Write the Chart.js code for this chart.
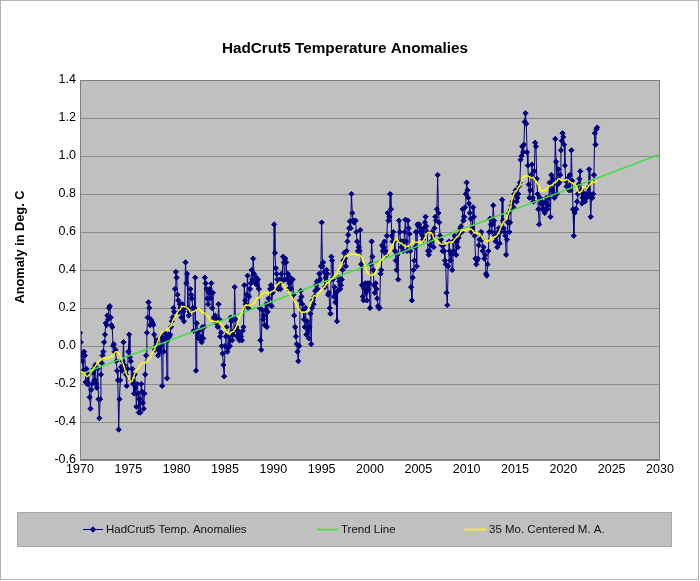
<!DOCTYPE html>
<html>
<head>
<meta charset="utf-8">
<script src="https://cdn.jsdelivr.net/npm/chart.js@4.4.1/dist/chart.umd.min.js"></script>
<style>
html,body{margin:0;padding:0;background:#fff;}
canvas{display:block;}
</style>
</head>
<body>
<canvas id="c" width="700" height="581"></canvas>
<script>
// ---------- data (monthly anomalies, Jan 1970 .. Jul 2023) ----------
const startYear = 1970;
const anom1970s = [
  0.07, 0.02, -0.05, -0.08, -0.13, -0.03, -0.05, -0.19, -0.12, -0.2, -0.15, -0.2,
  -0.27, -0.33, -0.23, -0.2, -0.14, -0.12, -0.18, -0.1, -0.2, -0.22, -0.12, -0.28,
  -0.38, -0.28, -0.15, -0.09, -0.05, -0.03, 0.02, 0.06, 0.12, 0.11, 0.16, 0.14,
  0.2, 0.21, 0.15, 0.11, 0.1, 0.0, 0.01, -0.03, -0.02, -0.08, -0.13, -0.18,
  -0.44, -0.28, -0.18, -0.11, -0.13, -0.08, 0.02, -0.1, -0.12, -0.15, -0.21, -0.12,
  -0.03, 0.06, -0.06, -0.08, -0.18, -0.12, -0.2, -0.25, -0.15, -0.22, -0.32, -0.2,
  -0.25, -0.35, -0.28, -0.35, -0.2, -0.24, -0.3, -0.33, -0.25, -0.15, -0.05, 0.07,
  0.15, 0.23, 0.2, 0.11, 0.14, 0.13, 0.12, 0.11, 0.06, -0.02, 0.0, 0.02,
  0.03, -0.05, -0.02, -0.03, 0.0, 0.05, -0.21, 0.03, -0.03, 0.07, 0.04, 0.06,
  -0.17, 0.03, 0.06, 0.05, 0.06, 0.1, 0.13, 0.15, 0.2, 0.18, 0.3, 0.39
];
const anom1980s = [
  0.36, 0.27, 0.24, 0.18, 0.22, 0.2, 0.15, 0.22, 0.18, 0.13, 0.2, 0.44,
  0.33, 0.38, 0.2, 0.16, 0.18, 0.3, 0.27, 0.25, 0.2, 0.08, 0.2, 0.36,
  -0.13, 0.12, 0.06, 0.04, 0.08, 0.04, 0.05, 0.02, 0.1, 0.04, 0.1, 0.36,
  0.33, 0.3, 0.25, 0.22, 0.28, 0.3, 0.25, 0.33, 0.2, 0.28, 0.15, 0.14,
  0.16, 0.12, 0.14, 0.1, 0.22, 0.14, 0.05, 0.07, 0.0, -0.04, -0.1, -0.16,
  0.0, 0.05, 0.1, -0.03, -0.01, 0.05, 0.0, 0.15, 0.13, 0.03, 0.06, 0.08,
  0.31, 0.14, 0.1, 0.05, 0.08, 0.04, 0.03, 0.06, 0.05, 0.03, 0.08, 0.1,
  0.32, 0.24, 0.22, 0.27, 0.37, 0.2, 0.26, 0.3, 0.33, 0.4, 0.35, 0.46,
  0.38, 0.34, 0.33, 0.36, 0.32, 0.35, 0.3, 0.2, 0.03, -0.02, 0.19, 0.14,
  0.16, 0.11, 0.19, 0.22, 0.1, 0.18, 0.25, 0.22, 0.3, 0.32, 0.21, 0.28
];
const anom1990s = [
  0.3, 0.64, 0.49, 0.41, 0.38, 0.35, 0.3, 0.33, 0.35, 0.3, 0.38, 0.34,
  0.47, 0.44, 0.35, 0.46, 0.44, 0.35, 0.38, 0.3, 0.33, 0.36, 0.3, 0.35,
  0.35, 0.27, 0.16, 0.1, 0.05, 0.01, -0.03, -0.08, 0.0, 0.24, 0.29, 0.26,
  0.22, 0.19, 0.14, 0.1, 0.2, 0.06, 0.13, 0.08, 0.04, 0.1, 0.17, 0.01,
  0.2, 0.24, 0.22, 0.26, 0.29, 0.32, 0.34, 0.3, 0.34, 0.38, 0.35, 0.42,
  0.65, 0.42, 0.44, 0.39, 0.31, 0.36, 0.4, 0.38, 0.27, 0.28, 0.2, 0.17,
  0.47, 0.45, 0.35, 0.26, 0.31, 0.23, 0.28, 0.13, 0.29, 0.36, 0.34, 0.3,
  0.32, 0.35, 0.4, 0.45, 0.49, 0.46, 0.42, 0.5, 0.55, 0.585, 0.62, 0.656,
  0.62, 0.8, 0.7, 0.66, 0.65, 0.66, 0.66, 0.6, 0.55, 0.5, 0.52, 0.5,
  0.61, 0.43, 0.32, 0.26, 0.24, 0.3, 0.33, 0.28, 0.24, 0.33, 0.3, 0.33
];
const anom2000s = [
  0.2, 0.43, 0.55, 0.47, 0.4, 0.32, 0.28, 0.33, 0.3, 0.25, 0.21, 0.2,
  0.2, 0.38, 0.4, 0.53, 0.5, 0.52, 0.55, 0.5, 0.48, 0.58, 0.7, 0.66,
  0.68, 0.8, 0.72, 0.58, 0.55, 0.6, 0.55, 0.5, 0.45, 0.4, 0.48, 0.35,
  0.66, 0.6, 0.55, 0.52, 0.55, 0.5, 0.55, 0.6, 0.665, 0.55, 0.5, 0.66,
  0.62, 0.59, 0.5, 0.31, 0.24, 0.36, 0.4, 0.45, 0.52, 0.6, 0.42, 0.64,
  0.63, 0.64, 0.6, 0.62, 0.6, 0.58, 0.56, 0.62, 0.65, 0.68, 0.63, 0.6,
  0.5, 0.48, 0.5, 0.53, 0.55, 0.6, 0.58, 0.52, 0.62, 0.68, 0.66, 0.72,
  0.9, 0.7, 0.65, 0.58, 0.56, 0.53, 0.5, 0.53, 0.5, 0.45, 0.43, 0.28,
  0.215, 0.42, 0.55, 0.5, 0.45, 0.48, 0.4, 0.55, 0.5, 0.58, 0.56, 0.48,
  0.55, 0.52, 0.57, 0.59, 0.62, 0.63, 0.6, 0.72, 0.66, 0.68, 0.73, 0.8
];
const anom2010s = [
  0.86, 0.82, 0.78, 0.75, 0.7, 0.67, 0.6, 0.62, 0.73, 0.68, 0.58, 0.46,
  0.43, 0.45, 0.46, 0.53, 0.56, 0.56, 0.6, 0.56, 0.5, 0.52, 0.46, 0.48,
  0.38, 0.37, 0.43, 0.5, 0.6, 0.67, 0.64, 0.6, 0.64, 0.74, 0.66, 0.58,
  0.55, 0.58, 0.52, 0.6, 0.62, 0.54, 0.6, 0.62, 0.77, 0.66, 0.62, 0.6,
  0.58, 0.48, 0.56, 0.65, 0.7, 0.6, 0.65, 0.72, 0.74, 0.76, 0.73, 0.8,
  0.8, 0.82, 0.76, 0.78, 0.8, 0.84, 0.86, 0.98, 1.0, 1.05, 1.02, 1.06,
  1.18, 1.225, 1.17, 1.02, 0.95, 0.85, 0.78, 0.82, 0.9, 0.955, 0.78, 0.76,
  0.92, 1.07, 1.05, 0.88, 0.8, 0.72, 0.64, 0.78, 0.75, 0.76, 0.72, 0.75,
  0.72, 0.7, 0.76, 0.78, 0.72, 0.74, 0.78, 0.86, 0.68, 0.9, 0.82, 0.88,
  0.8, 0.78, 1.09, 0.97, 0.8, 0.85, 0.93, 0.86, 0.9, 1.03, 1.08, 1.12
];
const anom2020s = [
  1.1, 1.06, 0.95, 0.87, 0.84, 0.88, 0.84, 0.82, 0.9, 0.82, 1.03, 0.87,
  0.72, 0.58, 0.7, 0.72, 0.72, 0.76, 0.8, 0.85, 0.88, 0.92, 0.82, 0.75,
  0.78, 0.8, 0.8, 0.76, 0.8, 0.78, 0.83, 0.8, 0.93, 0.8, 0.68, 0.78,
  0.78, 0.8, 0.9, 1.12, 1.06, 1.14, 1.15
];
const trendYears = [1970, 2030];
const trendValues = [-0.15, 1.01];
const maHalfWindow = 17; // 35-month centred moving average
const xTickYears = [1970, 1975, 1980, 1985, 1990, 1995, 2000, 2005, 2010, 2015, 2020, 2025, 2030];
const yTickValues = [-0.6, -0.4, -0.2, 0, 0.2, 0.4, 0.6, 0.8, 1.0, 1.2, 1.4];
const seriesNames = ['HadCrut5 Temp. Anomalies', 'Trend Line', '35 Mo. Centered M. A.'];
const chartTitle = 'HadCrut5 Temperature Anomalies';
const yAxisTitle = 'Anomaly in Deg. C';

// ---------- build datasets ----------
const monthly = [...anom1970s, ...anom1980s, ...anom1990s, ...anom2000s, ...anom2010s, ...anom2020s];
const monthlyPts = monthly.map((v, i) => ({x: startYear + i / 12, y: v}));
const maPts = monthly.map((v, i) => {
  let s = 0, n = 0;
  for (let j = Math.max(0, i - maHalfWindow); j <= Math.min(monthly.length - 1, i + maHalfWindow); j++) { s += monthly[j]; n++; }
  return {x: startYear + i / 12, y: s / n};
});
const trendPts = trendYears.map((x, i) => ({x, y: trendValues[i]}));

const FONT = '"Liberation Sans", Arial, Helvetica, sans-serif';
Chart.defaults.font.family = FONT;
Chart.defaults.color = '#000';

const NAVY = '#000080', GREEN = '#3ee03e', YELLOW = '#ffff00';

const decor = {
  id: 'decor',
  beforeDraw(chart) {
    const {ctx, chartArea: a, width, height} = chart;
    ctx.save();
    ctx.fillStyle = '#ffffff';
    ctx.fillRect(0, 0, width, height);
    ctx.strokeStyle = '#b4b4b4';
    ctx.lineWidth = 1;
    ctx.strokeRect(0.5, 0.5, width - 2, height - 2);
    ctx.fillStyle = '#c0c0c0';
    ctx.fillRect(a.left, a.top, a.right - a.left, a.bottom - a.top);
    ctx.restore();
  },
  afterDraw(chart) {
    const {ctx, chartArea: a} = chart;
    ctx.save();
    ctx.strokeStyle = '#808080';
    ctx.lineWidth = 1;
    ctx.strokeRect(a.left + 0.5, a.top + 0.5, a.right - a.left - 1, a.bottom - a.top - 1);
    // title
    ctx.fillStyle = '#000';
    ctx.textAlign = 'center';
    ctx.textBaseline = 'middle';
    ctx.font = 'bold 15.3px ' + FONT;
    ctx.fillText(chartTitle, 345, 49);
    // y axis title
    ctx.save();
    ctx.translate(20, 247);
    ctx.rotate(-Math.PI / 2);
    ctx.font = 'bold 12.8px ' + FONT;
    ctx.fillText(yAxisTitle, 0, 0);
    ctx.restore();
    // legend box
    ctx.fillStyle = '#c0c0c0';
    ctx.fillRect(17, 512, 655, 35);
    ctx.strokeStyle = '#a8a8a8';
    ctx.strokeRect(17.5, 512.5, 654, 34);
    const ly = 529.5;
    const itemX = [83, 317, 464];
    const itemLen = [20, 21, 22];
    chart.data.datasets.forEach((ds, i) => {
      const x0 = itemX[i], x1 = x0 + itemLen[i];
      ctx.strokeStyle = ds.borderColor;
      ctx.lineWidth = i === 0 ? 1 : 1.5;
      ctx.beginPath(); ctx.moveTo(x0, ly); ctx.lineTo(x1, ly); ctx.stroke();
      if (i === 0) {
        const cx = (x0 + x1) / 2, r = 3.2;
        ctx.fillStyle = NAVY;
        ctx.beginPath();
        ctx.moveTo(cx, ly - r); ctx.lineTo(cx + r, ly); ctx.lineTo(cx, ly + r); ctx.lineTo(cx - r, ly);
        ctx.closePath(); ctx.fill();
      }
      ctx.fillStyle = '#111';
      ctx.textAlign = 'left';
      ctx.textBaseline = 'middle';
      ctx.font = '11.5px ' + FONT;
      ctx.fillText(ds.label, x1 + 3, ly);
    });
    ctx.restore();
  }
};

new Chart(document.getElementById('c'), {
  type: 'scatter',
  data: {
    datasets: [
      {
        label: seriesNames[0], data: monthlyPts, showLine: true,
        borderColor: NAVY, borderWidth: 1, pointStyle: 'rectRot', pointRadius: 2.6,
        pointBackgroundColor: NAVY, pointBorderColor: NAVY, pointBorderWidth: 1, order: 3
      },
      {
        label: seriesNames[1], data: trendPts, showLine: true,
        borderColor: GREEN, borderWidth: 1.5, pointRadius: 0, order: 2
      },
      {
        label: seriesNames[2], data: maPts, showLine: true,
        borderColor: YELLOW, borderWidth: 1.4, pointRadius: 0, order: 1
      }
    ]
  },
  options: {
    responsive: false,
    animation: false,
    events: [],
    devicePixelRatio: 1,
    layout: { padding: { left: 0, right: 40, top: 80, bottom: 91 } },
    plugins: { legend: { display: false }, title: { display: false }, tooltip: { enabled: false } },
    scales: {
      x: {
        type: 'linear', min: 1970, max: 2030,
        afterBuildTicks: s => { s.ticks = xTickYears.map(v => ({value: v})); },
        afterFit: s => { s.height = 30; },
        ticks: { callback: v => String(v), color: '#000', font: { size: 12.5 }, padding: 2, maxRotation: 0, autoSkip: false },
        grid: { display: false, drawTicks: false },
        border: { display: false }
      },
      y: {
        type: 'linear', min: -0.6, max: 1.4,
        afterBuildTicks: s => { s.ticks = yTickValues.map(v => ({value: v})); },
        afterFit: s => { s.width = 80; },
        ticks: { callback: v => Number(v).toFixed(1), color: '#000', font: { size: 12.5 }, padding: 4 },
        grid: { color: '#8a8a8a', lineWidth: 1, drawTicks: false },
        border: { display: false }
      }
    }
  },
  plugins: [decor]
});
</script>
</body>
</html>
